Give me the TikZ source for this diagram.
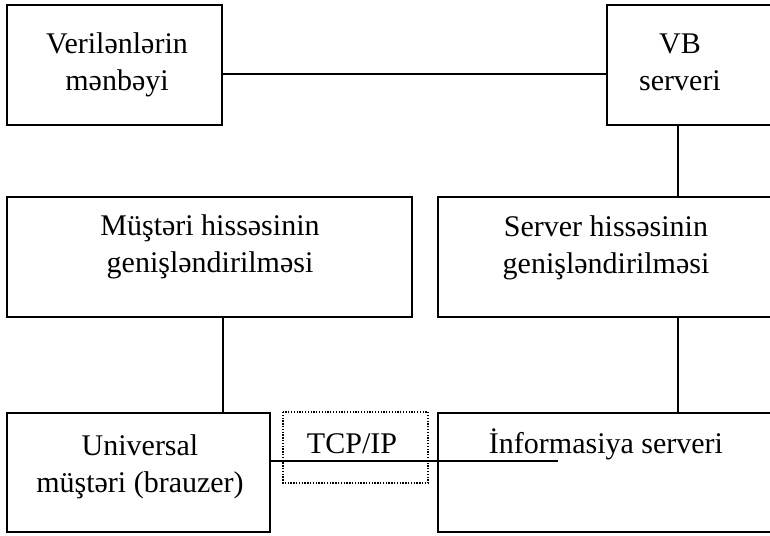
\documentclass[tikz,border=0pt]{standalone}
\usepackage{fontspec}
\setmainfont{Liberation Serif}
\begin{document}
\begin{tikzpicture}[x=1pt,y=-1pt,
  box/.style={draw, line width=2.2pt, inner sep=0pt},
  conn/.style={line width=2.2pt},
  txt/.style={inner sep=0pt, align=center, anchor=base, font=\fontsize{30}{36.5}\selectfont},
  dotbox/.style={draw, line width=1.3pt, dash pattern=on 1.3pt off 1.5pt}]
\useasboundingbox (0,0) rectangle (770,535);
\clip (0,0) rectangle (770,535);
% boxes
\coordinate (b1a) at (7,5);   \coordinate (b1b) at (222,125);
\coordinate (b2a) at (607,5); \coordinate (b2b) at (790,125);
\coordinate (b3a) at (7,197); \coordinate (b3b) at (412,317);
\coordinate (b4a) at (438,197); \coordinate (b4b) at (790,317);
\coordinate (b5a) at (7,413); \coordinate (b5b) at (270,532);
\coordinate (b6a) at (438,413); \coordinate (b6b) at (790,532);
\draw[box] (b1a) rectangle (b1b);
\draw[box] (b2a) rectangle (b2b);
\draw[box] (b3a) rectangle (b3b);
\draw[box] (b4a) rectangle (b4b);
\draw[box] (b5a) rectangle (b5b);
\draw[box] (b6a) rectangle (b6b);
\draw[dotbox] (283,412) rectangle (428,483);
% texts (base = last line's baseline)
\node[txt] (t1) at (117,90) {Verilənlərin\\mənbəyi};
\node[txt] (t2) at (680,90) {VB\\serveri};
\node[txt] (t3) at (210,272) {Müştəri hissəsinin\\genişləndirilməsi};
\node[txt] (t4) at (606,273) {Server hissəsinin\\genişləndirilməsi};
\node[txt] (t5) at (140,492) {Universal\\müştəri (brauzer)};
\node[txt] (t6) at (606,453) {İnformasiya serveri};
\node[txt] (t7) at (352,453) {TCP/IP};
% connectors
\coordinate (c1) at (222,74); \coordinate (c2) at (607,74);
\draw[conn] (c1) -- (c2);
\coordinate (c3) at (678,125); \coordinate (c4) at (678,197);
\draw[conn] (c3) -- (c4);
\coordinate (c5) at (678,317); \coordinate (c6) at (678,413);
\draw[conn] (c5) -- (c6);
\coordinate (c7) at (223,317); \coordinate (c8) at (223,413);
\draw[conn] (c7) -- (c8);
\coordinate (c9) at (270,461); \coordinate (c10) at (558,461);
\draw[conn] (c9) -- (c10);
\end{tikzpicture}
\end{document}
